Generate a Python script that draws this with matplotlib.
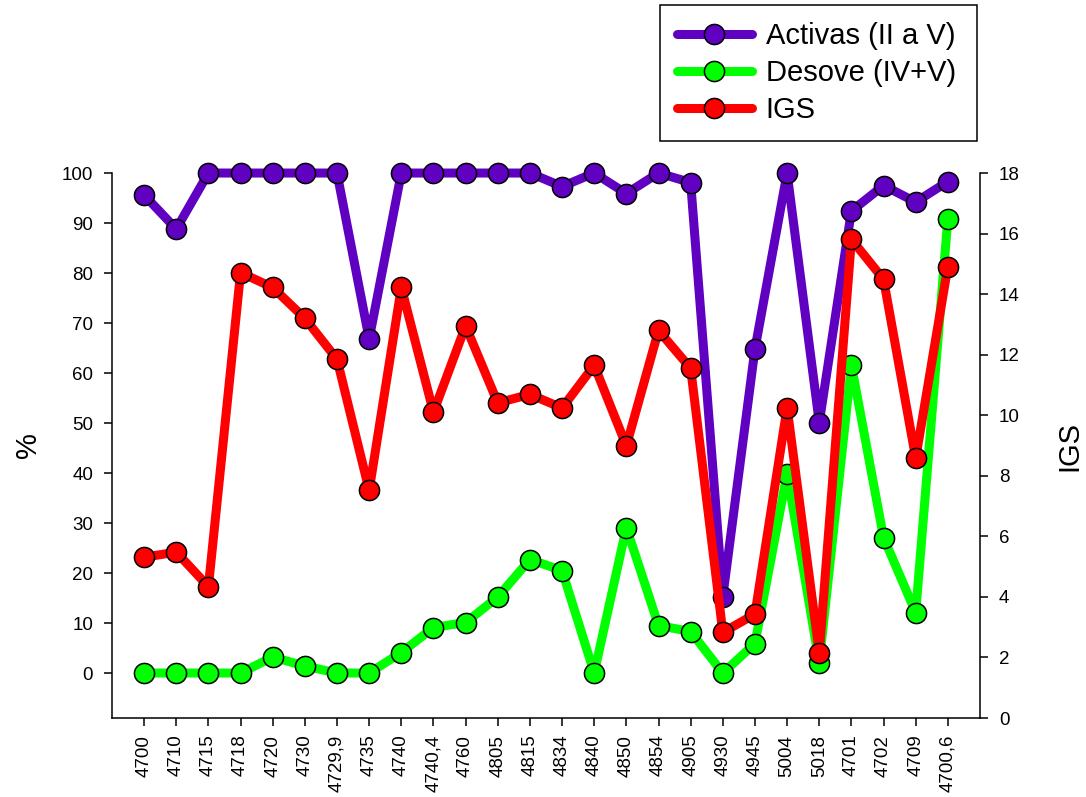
import matplotlib
matplotlib.use("Agg")
import matplotlib.pyplot as plt
from matplotlib.lines import Line2D

plt.rcParams['font.family'] = ['Liberation Sans', 'DejaVu Sans']

categories = ["4700", "4710", "4715", "4718", "4720", "4730", "4729,9", "4735",
              "4740", "4740,4", "4760", "4805", "4815", "4834", "4840", "4850",
              "4854", "4905", "4930", "4945", "5004", "5018", "4701", "4702",
              "4709", "4700,6"]
activas = [95.6, 88.8, 100, 100, 100, 100, 100, 66.8, 100, 100, 100, 100, 100,
           97.3, 100, 95.9, 100, 98.1, 15.3, 64.8, 100, 50.1, 92.4, 97.5, 94.2, 98.3]
desove = [0, 0, 0, 0, 3.2, 1.4, 0, 0, 4.1, 9.1, 10.1, 15.2, 22.7, 20.5, 0, 29.1,
          9.5, 8.3, 0, 5.9, 39.9, 2.1, 61.6, 27.1, 12.1, 90.9]
igs = [5.31, 5.48, 4.34, 14.71, 14.22, 13.20, 11.85, 7.52, 14.22, 10.10, 12.95,
       10.41, 10.69, 10.24, 11.65, 8.99, 12.80, 11.55, 2.83, 3.43, 10.25, 2.16,
       15.81, 14.49, 8.58, 14.91]

c_act = "#6000C0"
c_des = "#00FF00"
c_igs = "#FF0000"

fig = plt.figure(figsize=(10.86, 7.97), dpi=100)
ax = fig.add_axes([0.1031, 0.0991, 0.7993, 0.6838])
ax2 = ax.twinx()

x = list(range(len(categories)))
lw = 6.5
ms = 14.5
style = dict(linewidth=lw, marker='o', markersize=ms, markeredgecolor='black',
             markeredgewidth=1.1)

ax.plot(x, activas, color=c_act, markerfacecolor=c_act, zorder=3, clip_on=False, **style)
ax.plot(x, desove, color=c_des, markerfacecolor=c_des, zorder=4, clip_on=False, **style)
ax2.plot(x, igs, color=c_igs, markerfacecolor=c_igs, zorder=5, clip_on=False, **style)

ax.set_xlim(-1, 26)
ax.set_ylim(-9, 100)
ax2.set_ylim(0, 18)
ax.set_yticks(range(0, 101, 10))
ax2.set_yticks(range(0, 19, 2))
ax.set_xticks(x)
ax.set_xticklabels(categories, rotation=90)

for a in (ax, ax2):
    a.spines['top'].set_visible(False)
    a.tick_params(direction='out', length=6, width=1.1, labelsize=13.5, pad=7.5)
    a.patch.set_visible(False)
ax.tick_params(axis='x', pad=6)
ax.spines['right'].set_visible(False)
ax2.spines['left'].set_visible(False)
ax2.spines['bottom'].set_visible(False)
for s in ('left', 'bottom'):
    ax.spines[s].set_linewidth(1.1)
ax2.spines['right'].set_linewidth(1.1)

ax.set_ylabel("%", fontsize=21, labelpad=14)
ax2.set_ylabel("IGS", fontsize=21, labelpad=26)

handles = [
    Line2D([], [], color=c_act, markerfacecolor=c_act, **style),
    Line2D([], [], color=c_des, markerfacecolor=c_des, **style),
    Line2D([], [], color=c_igs, markerfacecolor=c_igs, **style),
]
for h in handles:
    h.set_solid_capstyle('round')
leg = fig.legend(handles, ["Activas (II a V)", "Desove (IV+V)", "IGS"],
                 loc='upper left', bbox_to_anchor=(0.6077, 0.8206, 0.2919, 0.1731),
                 mode='expand',
                 fontsize=21, handlelength=2.57, handletextpad=0.48,
                 labelspacing=0.31, borderpad=0.58, borderaxespad=0,
                 fancybox=False, edgecolor='black', framealpha=1)
leg.get_frame().set_linewidth(1.1)

fig.savefig("out.png", dpi=100)
